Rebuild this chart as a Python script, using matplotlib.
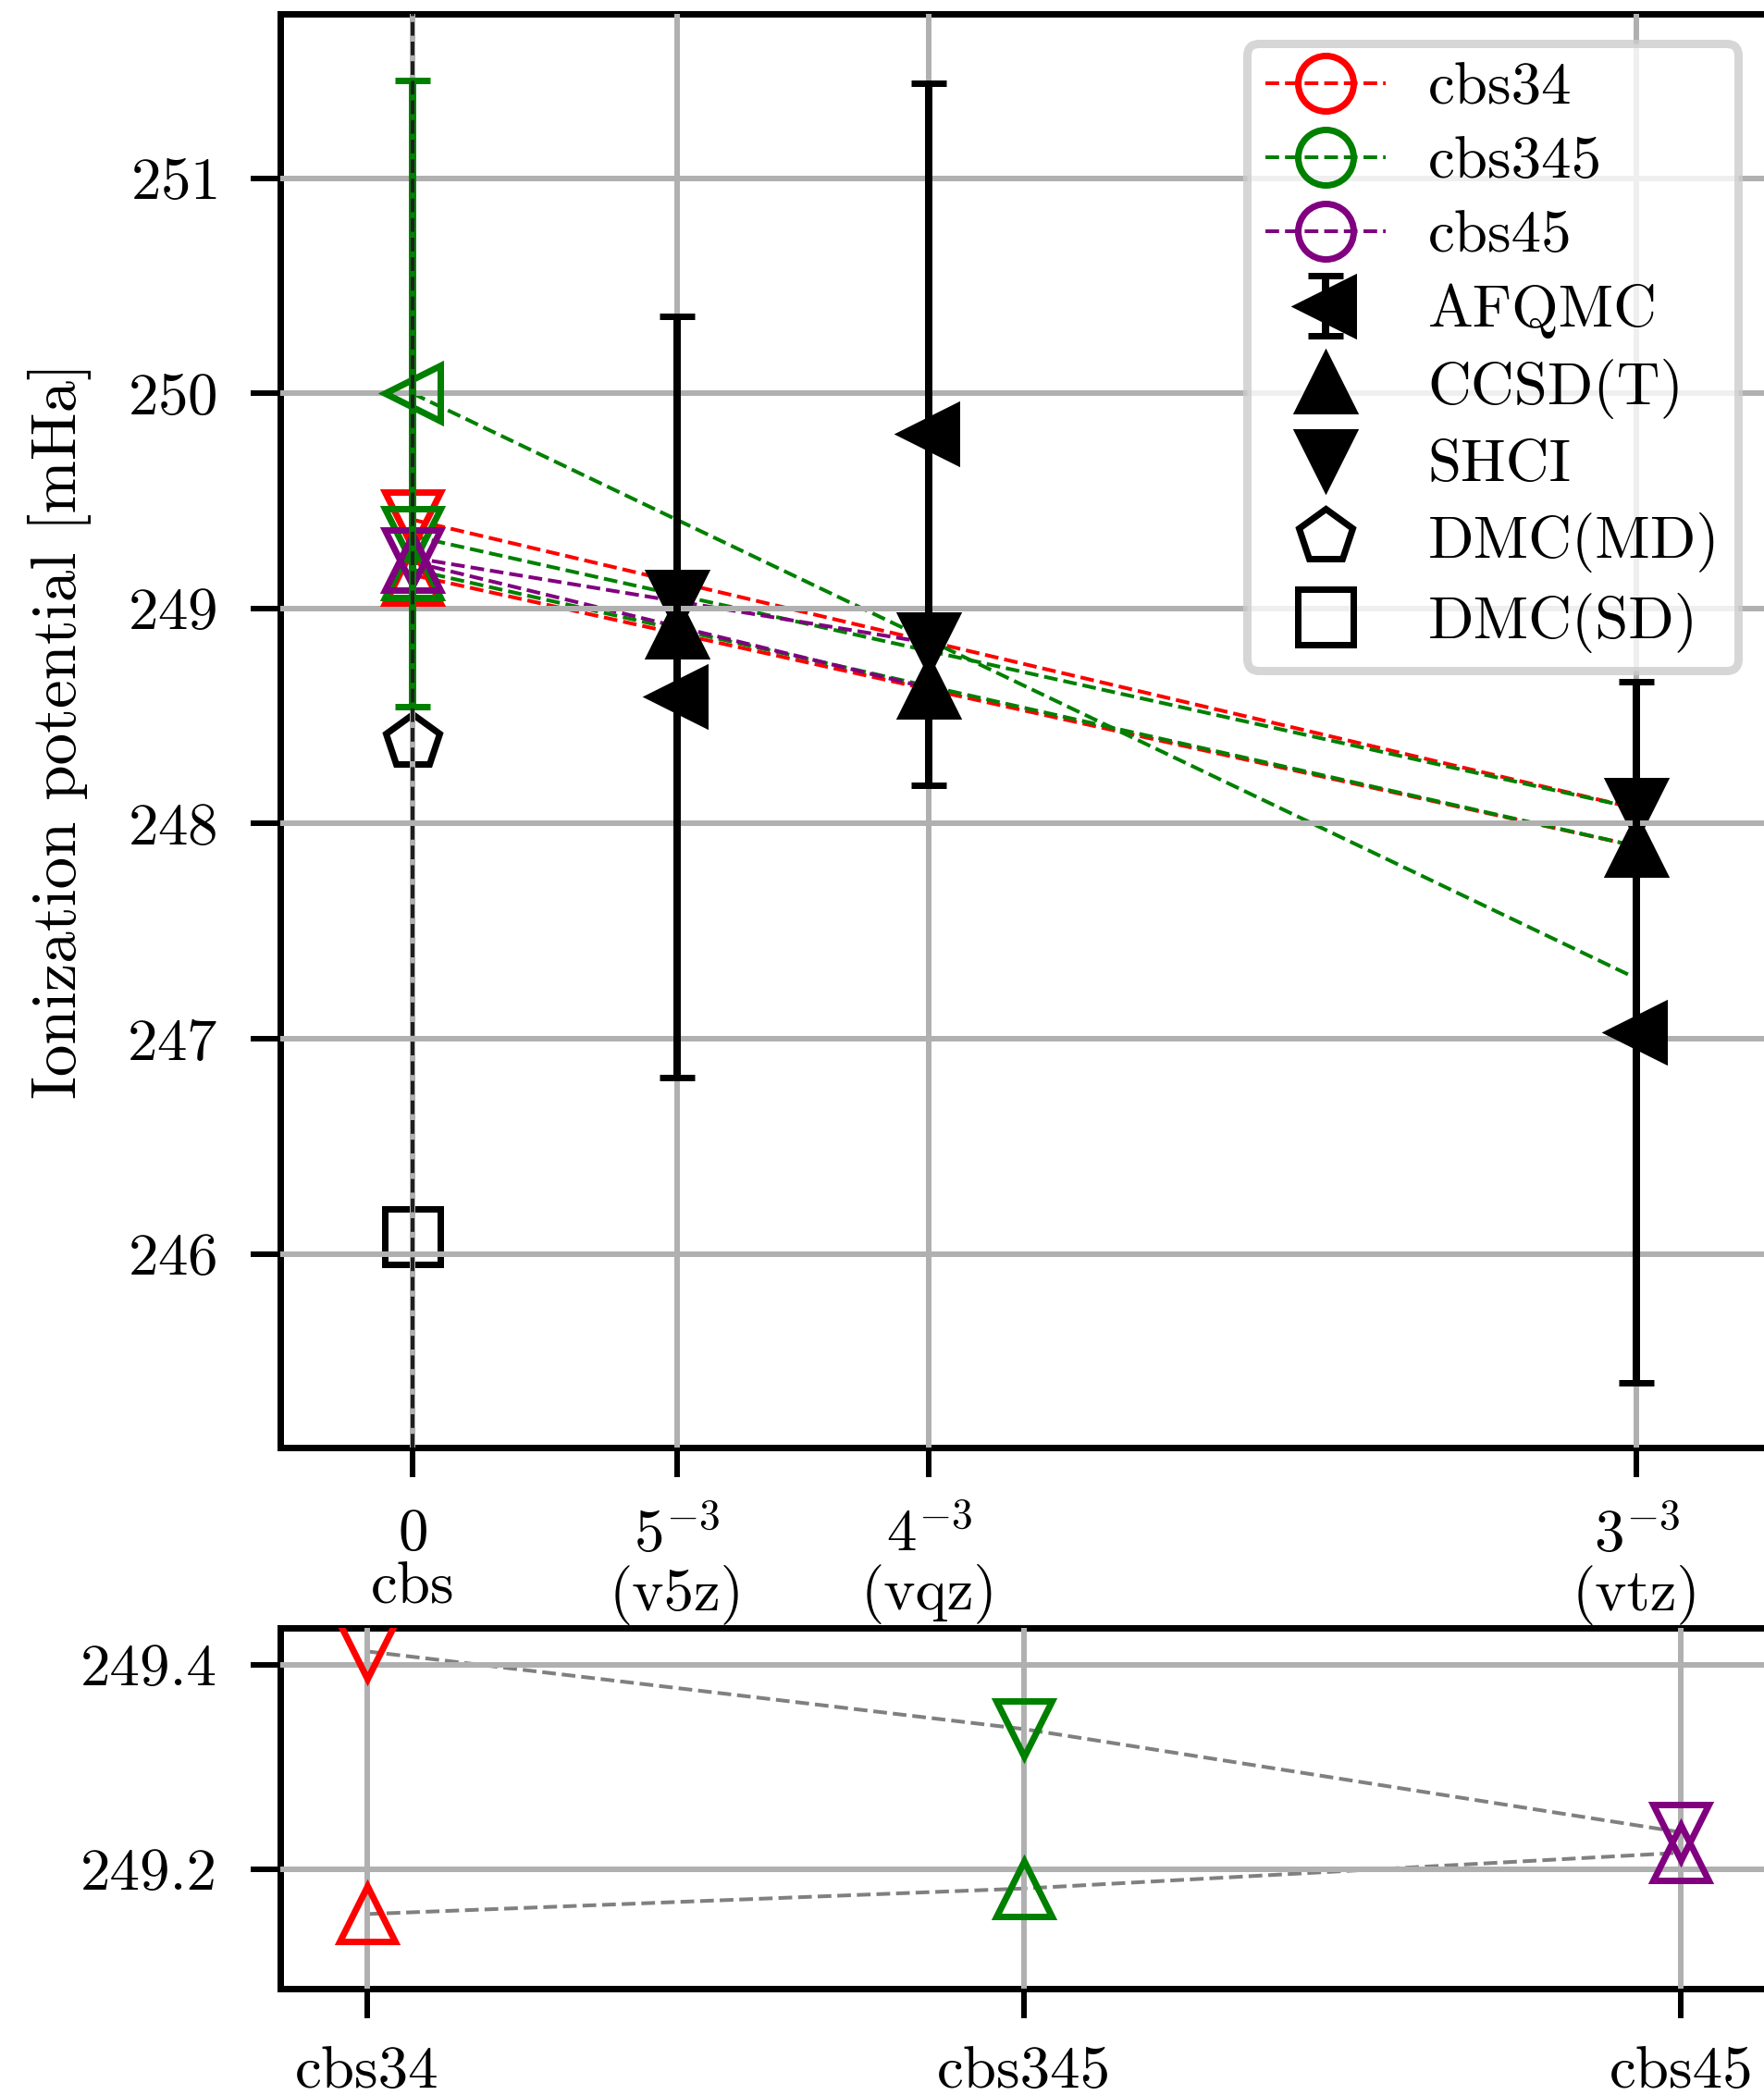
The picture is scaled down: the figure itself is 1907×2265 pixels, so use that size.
import matplotlib
matplotlib.use('Agg')
import matplotlib.pyplot as plt
from matplotlib.lines import Line2D

plt.rcParams['font.family'] = 'cmr10'
plt.rcParams['mathtext.fontset'] = 'cm'
plt.rcParams['axes.formatter.use_mathtext'] = True

# basis set positions, x = n^-3
basis_x = [0.0, 5 ** -3, 4 ** -3, 3 ** -3]
basis_labels = ['$0$\ncbs', '$5^{-3}$\n(v5z)', '$4^{-3}$\n(vqz)', '$3^{-3}$\n(vtz)']

# finite basis results (v5z, vqz, vtz) in mHa
afqmc = [248.59, 249.81, 247.03]
afqmc_err = [1.77, 1.63, 1.63]
ccsdt = [248.91, 248.63, 247.895]
shci = [249.04, 248.84, 248.07]

# DMC values at the cbs limit
dmc_md = 248.38
dmc_sd = 246.08

# extrapolated cbs values
cbs_names = ['cbs34', 'cbs345', 'cbs45']
cbs_colors = ['red', 'green', 'purple']
cbs_ccsdt = [249.156, 249.181, 249.216]
cbs_shci = [249.413, 249.337, 249.236]
cbs345_afqmc = 250.0
cbs345_afqmc_err = 1.455

# end point of each extrapolation line (x index into basis_x, value there)
fit_end_idx = [3, 3, 2]
fit_end_ccsdt = [247.895, 247.895, 248.63]
fit_end_shci = [248.07, 248.07, 248.84]
fit_end_afqmc345 = 247.28

PX = 0.72  # pixels -> points at dpi 100
FS = 65 * PX
MS = 60 * PX
MEW = 7 * PX
LW_FIT = 4 * PX
LW_EB = 8 * PX

fig = plt.figure(figsize=(19.07, 22.65), dpi=100)
ax = fig.add_axes([0.15889, 0.30905, 0.84321, 0.68433])
ax2 = fig.add_axes([0.15889, 0.05077, 0.84321, 0.17219])


def estilo_eixo(a):
    a.set_axisbelow(False)
    a.grid(True, color='#b0b0b0', lw=6 * PX)
    for s in a.spines.values():
        s.set_linewidth(7 * PX)
    a.tick_params(axis='both', length=32 * PX, width=6 * PX, labelsize=FS)
    a.tick_params(axis='y', pad=36 * PX)
    a.tick_params(axis='x', pad=34 * PX)


estilo_eixo(ax)
estilo_eixo(ax2)

# cbs limit guide
ax.axvline(0, color='0.12', ls='--', lw=4 * PX, zorder=4)

# extrapolation lines
for i in range(3):
    xe = basis_x[fit_end_idx[i]]
    ax.plot([0, xe], [cbs_shci[i], fit_end_shci[i]], '--', color=cbs_colors[i], lw=LW_FIT)
    ax.plot([0, xe], [cbs_ccsdt[i], fit_end_ccsdt[i]], '--', color=cbs_colors[i], lw=LW_FIT)
ax.plot([0, basis_x[3]], [cbs345_afqmc, fit_end_afqmc345], '--', color='green', lw=LW_FIT)

# extrapolated markers
for i in range(3):
    ax.plot([0], [cbs_ccsdt[i]], '^', ms=MS, mew=MEW, mfc='none', mec=cbs_colors[i], zorder=3)
    ax.plot([0], [cbs_shci[i]], 'v', ms=MS, mew=MEW, mfc='none', mec=cbs_colors[i], zorder=3)
ax.errorbar([0], [cbs345_afqmc], yerr=[cbs345_afqmc_err], fmt='<', color='green',
            ms=MS, mew=MEW, mfc='none', mec='green', elinewidth=LW_EB,
            capsize=19 * PX, capthick=9 * PX, zorder=3)

# finite basis data
h_afqmc = ax.errorbar(basis_x[1:], afqmc, yerr=afqmc_err, fmt='<', color='k', ms=MS, mew=MEW,
                      elinewidth=LW_EB, capsize=19 * PX, capthick=9 * PX, zorder=3,
                      label='AFQMC')
h_ccsdt, = ax.plot(basis_x[1:], ccsdt, '^', color='k', ms=MS, mew=MEW, ls='none', label='CCSD(T)')
h_shci, = ax.plot(basis_x[1:], shci, 'v', color='k', ms=MS, mew=MEW, ls='none', label='SHCI')
h_md, = ax.plot([0], [dmc_md], 'p', color='k', mfc='none', ms=MS, mew=MEW, ls='none', label='DMC(MD)')
h_sd, = ax.plot([0], [dmc_sd], 's', color='k', mfc='none', ms=MS, mew=MEW, ls='none', label='DMC(SD)')

handles = []
for i in range(3):
    handles.append(Line2D([], [], ls='--', color=cbs_colors[i], marker='o', mfc='none',
                          ms=MS, mew=MEW, lw=LW_FIT, label=cbs_names[i]))
handles += [h_afqmc, h_ccsdt, h_shci, h_md, h_sd]
leg = ax.legend(handles=handles, loc='upper right', fontsize=FS, framealpha=0.8,
                labelspacing=0.33, borderpad=0.3, handletextpad=0.7)
leg.get_frame().set_linewidth(9 * PX)
leg.set_zorder(6)

ax.set_xticks(basis_x)
ax.set_xticklabels(basis_labels)
for t in ax.get_xticklabels():
    t.set_linespacing(1.0)
ax.set_xlim(-0.004, 0.041)
ax.set_ylim(245.1, 251.764)
ax.set_yticks([246, 247, 248, 249, 250, 251])
ax.set_ylabel('Ionization potential [mHa]', fontsize=69 * PX)
ax.yaxis.set_label_coords(-0.127, 0.5)

# comparison of the extrapolations
pos = [0, 1, 2]
ax2.plot(pos, cbs_shci, '--', color='gray', lw=LW_FIT)
ax2.plot(pos, cbs_ccsdt, '--', color='gray', lw=LW_FIT)
for i in range(3):
    ax2.plot([pos[i]], [cbs_shci[i]], 'v', ms=MS, mew=MEW, mfc='none', mec=cbs_colors[i], zorder=3)
    ax2.plot([pos[i]], [cbs_ccsdt[i]], '^', ms=MS, mew=MEW, mfc='none', mec=cbs_colors[i], zorder=3)
ax2.set_xticks(pos)
ax2.set_xticklabels(cbs_names)
ax2.tick_params(axis='x', pad=30 * PX)
ax2.set_xlim(-0.132, 2.132)
ax2.set_ylim(249.083, 249.436)
ax2.set_yticks([249.2, 249.4])
ax2.set_yticklabels(['249.2', '249.4'])

fig.savefig('out.png', dpi=100)
